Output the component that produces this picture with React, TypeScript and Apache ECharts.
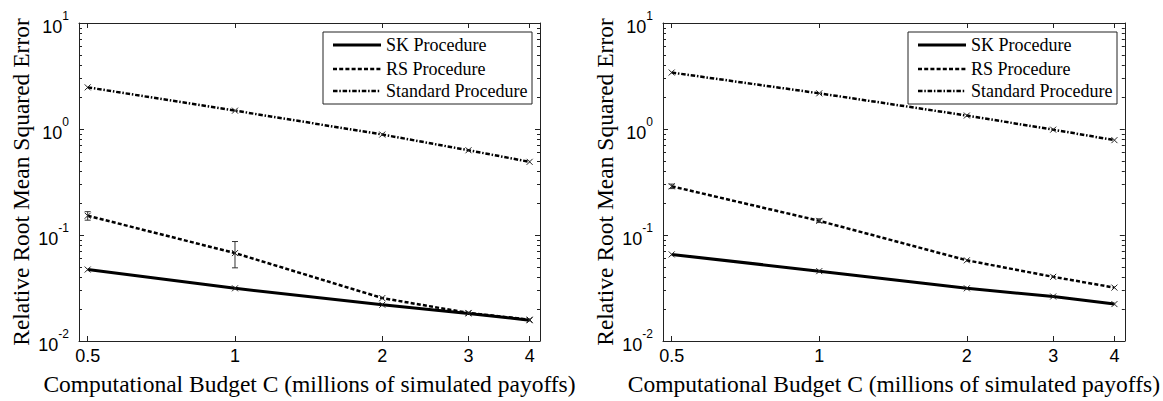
import React, { useEffect, useRef } from 'react';
import * as echarts from 'echarts';

// ---- data ----
const budgets = [0.5, 1, 2, 3, 4];

const leftSK = [0.0472, 0.0314, 0.022, 0.0182, 0.0157];
const leftRS = [0.152, 0.0675, 0.0254, 0.0184, 0.0159];
const leftStd = [2.47, 1.49, 0.887, 0.63, 0.49];
const leftErrX = [0.5, 1];
const leftErrLow = [0.138, 0.049];
const leftErrHigh = [0.166, 0.0868];

const rightSK = [0.0656, 0.0456, 0.0314, 0.0263, 0.0223];
const rightRS = [0.288, 0.136, 0.0577, 0.0403, 0.0319];
const rightStd = [3.41, 2.17, 1.34, 0.986, 0.785];
const rightErrX = [0.5, 1];
const rightErrLow = [0.274, 0.131];
const rightErrHigh = [0.302, 0.142];

const seriesNames = ['SK Procedure', 'RS Procedure', 'Standard Procedure'];
const xTickLabels = [0.5, 1, 2, 3, 4];
const yMajorTicks = [0.01, 0.1, 1, 10];
const yMinorTicks = [
  0.02, 0.03, 0.04, 0.05, 0.06, 0.07, 0.08, 0.09,
  0.2, 0.3, 0.4, 0.5, 0.6, 0.7, 0.8, 0.9,
  2, 3, 4, 5, 6, 7, 8, 9,
];
const xTitle = 'Computational Budget C (millions of simulated payoffs)';
const yTitle = 'Relative Root Mean Squared Error';

// ---- style ----
const SERIF = 'Liberation Serif';
const SANS = 'Liberation Sans';
const AX = '#222';
const lineStyles = [
  { type: 'solid', width: 3 },
  { type: [4, 2.2], width: 2.5 },
  { type: [4.5, 1.8, 1.5, 1.8], width: 2.5 },
];

const panels = [
  { left: 79, top: 23, width: 461, height: 322, sk: leftSK, rs: leftRS, std: leftStd, errX: leftErrX, errLo: leftErrLow, errHi: leftErrHigh, legend: { x: 323, y: 32, w: 209, h: 72 } },
  { left: 663, top: 23, width: 462, height: 322, sk: rightSK, rs: rightRS, std: rightStd, errX: rightErrX, errLo: rightErrLow, errHi: rightErrHigh, legend: { x: 908, y: 32, w: 209, h: 72 } },
];

function buildOption() {
  const grid: any[] = [];
  const xAxis: any[] = [];
  const yAxis: any[] = [];
  const series: any[] = [];
  const graphic: any[] = [];

  panels.forEach((p, gi) => {
    grid.push({ left: p.left, top: p.top, width: p.width, height: p.height });
    const xBase = {
      type: 'log', logBase: 2, min: 0.48, max: 4.2, gridIndex: gi,
      splitLine: { show: false },
      axisLine: { show: true, lineStyle: { color: AX, width: 1 } },
      axisTick: { show: true, inside: true, length: 5, customValues: xTickLabels, lineStyle: { color: AX } },
      minorTick: { show: false },
    };
    xAxis.push({
      ...xBase, position: 'bottom',
      axisLabel: { show: true, customValues: xTickLabels, formatter: (v: number) => String(v), fontFamily: SANS, fontSize: 18, color: '#000', margin: 6 },
      name: xTitle, nameLocation: 'middle', nameGap: 31,
      nameTextStyle: { fontFamily: SERIF, fontSize: 23.5, color: '#000' },
    });
    xAxis.push({ ...xBase, position: 'top', axisLabel: { show: false } });

    const yBase = {
      type: 'log', logBase: 10, min: 0.01, max: 10, gridIndex: gi,
      splitLine: { show: false }, minorTick: { show: false },
    };
    const yMajorIdx = yAxis.length;
    yAxis.push({
      ...yBase, position: 'left',
      axisLine: { show: true, lineStyle: { color: AX, width: 1 } },
      axisTick: { show: true, inside: true, length: 5, customValues: yMajorTicks, lineStyle: { color: AX } },
      axisLabel: {
        show: true, customValues: yMajorTicks, margin: 10,
        formatter: (v: number) => `{b|10}{s|${Math.round(Math.log10(v))}}`,
        rich: {
          b: { fontFamily: SANS, fontSize: 18, color: '#000', lineHeight: 26, verticalAlign: 'bottom' },
          s: { fontFamily: SANS, fontSize: 12, color: '#000', lineHeight: 26, verticalAlign: 'top' },
        },
      },
      name: yTitle, nameLocation: 'middle', nameGap: 46,
      nameTextStyle: { fontFamily: SERIF, fontSize: 23.5, color: '#000' },
    });
    yAxis.push({
      ...yBase, position: 'left', axisLine: { show: false }, axisLabel: { show: false },
      axisTick: { show: true, inside: true, length: 3, customValues: yMinorTicks, lineStyle: { color: AX } },
    });
    yAxis.push({
      ...yBase, position: 'right', axisLine: { show: true, lineStyle: { color: AX, width: 1 } }, axisLabel: { show: false },
      axisTick: { show: true, inside: true, length: 5, customValues: yMajorTicks, lineStyle: { color: AX } },
    });
    yAxis.push({
      ...yBase, position: 'right', axisLine: { show: false }, axisLabel: { show: false },
      axisTick: { show: true, inside: true, length: 3, customValues: yMinorTicks, lineStyle: { color: AX } },
    });

    const xi = gi * 2;
    const vals = [p.sk, p.rs, p.std];
    vals.forEach((ys, si) => {
      series.push({
        type: 'line', name: seriesNames[si], xAxisIndex: xi, yAxisIndex: yMajorIdx,
        data: budgets.map((x, i) => [x, ys[i]]),
        lineStyle: { color: '#000', ...lineStyles[si] },
        symbol: 'path://M0,0L10,10M10,0L0,10', symbolSize: 6,
        itemStyle: { color: '#000', borderColor: '#222', borderWidth: 1 },
        z: 3,
      });
    });
    series.push({
      type: 'custom', xAxisIndex: xi, yAxisIndex: yMajorIdx,
      data: p.errX.map((x, i) => [x, p.errLo[i], p.errHi[i]]),
      encode: { x: 0, y: [1, 2] },
      renderItem: (params: any, api: any) => {
        const x = api.value(0);
        const lo = api.coord([x, api.value(1)]);
        const hi = api.coord([x, api.value(2)]);
        const w = 3;
        const st = { stroke: '#333', lineWidth: 1 };
        return {
          type: 'group',
          children: [
            { type: 'line', shape: { x1: lo[0], y1: lo[1], x2: hi[0], y2: hi[1] }, style: st },
            { type: 'line', shape: { x1: lo[0] - w, y1: lo[1], x2: lo[0] + w, y2: lo[1] }, style: st },
            { type: 'line', shape: { x1: hi[0] - w, y1: hi[1], x2: hi[0] + w, y2: hi[1] }, style: st },
          ],
        };
      },
      z: 4,
    });

    // legend box
    const L = p.legend;
    const children: any[] = [
      { type: 'rect', shape: { x: L.x, y: L.y, width: L.w, height: L.h }, style: { fill: '#fff', stroke: AX, lineWidth: 1 } },
    ];
    const rowsY = [L.y + 13, L.y + 37, L.y + 59];
    seriesNames.forEach((nm, si) => {
      const ls = lineStyles[si];
      children.push({
        type: 'line', shape: { x1: L.x + 10, y1: rowsY[si], x2: L.x + 58, y2: rowsY[si] },
        style: { stroke: '#000', lineWidth: ls.width, lineDash: ls.type === 'solid' ? null : ls.type },
      });
      children.push({
        type: 'text', x: L.x + 63, y: rowsY[si],
        style: { text: nm, fontFamily: SERIF, fontSize: 18, fill: '#000', verticalAlign: 'middle', align: 'left' },
      });
    });
    graphic.push({ type: 'group', z: 100, children });
  });

  return { animation: false, backgroundColor: '#fff', grid, xAxis, yAxis, series, graphic };
}

export default function App() {
  const ref = useRef<HTMLDivElement>(null);
  useEffect(() => {
    if (!ref.current) return;
    const chart = echarts.init(ref.current, null, { renderer: 'svg' });
    chart.setOption(buildOption() as any);
    return () => chart.dispose();
  }, []);
  return <div ref={ref} style={{ position: 'fixed', left: 0, top: 0, width: 1163, height: 401, background: '#fff' }} />;
}
